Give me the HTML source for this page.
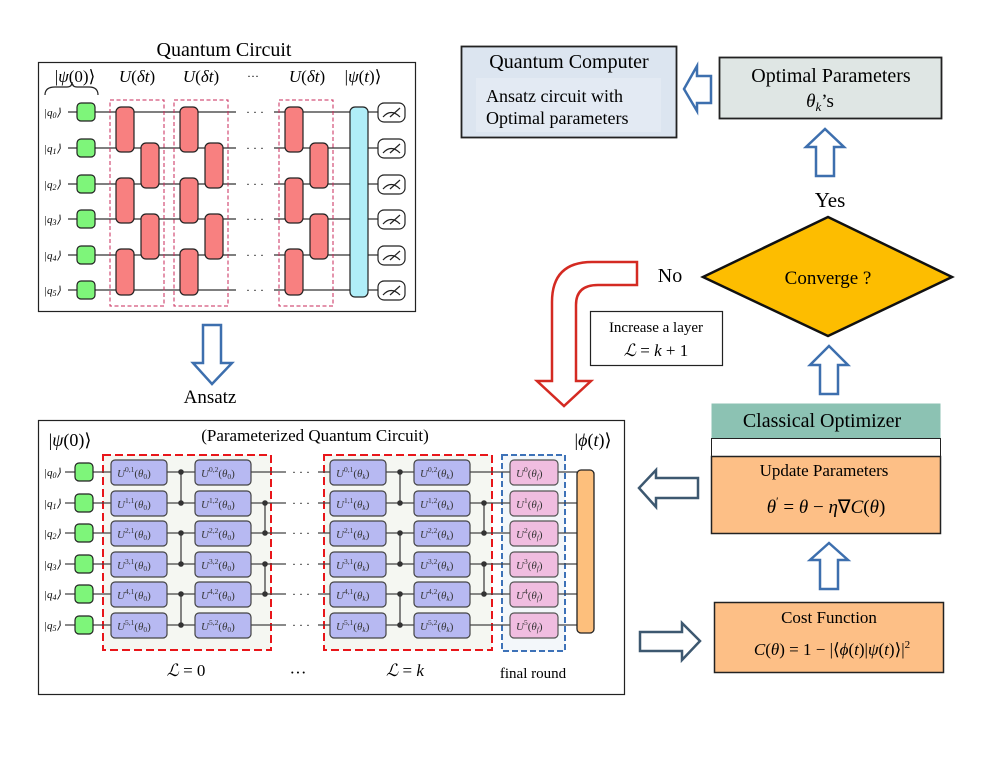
<!DOCTYPE html>
<html><head><meta charset="utf-8"><style>
body{margin:0;background:#fff}
svg{display:block;font-family:"Liberation Serif",serif}
.m{font-style:italic}
</style></head><body>
<svg width="997" height="770" viewBox="0 0 997 770" xmlns="http://www.w3.org/2000/svg">
<defs>
<g id="topcol">
<rect x="6" y="47" width="18" height="45" rx="5" fill="#f88080" stroke="#222" stroke-width="1.2"/>
<rect x="6" y="118" width="18" height="45" rx="5" fill="#f88080" stroke="#222" stroke-width="1.2"/>
<rect x="6" y="189" width="18" height="46" rx="5" fill="#f88080" stroke="#222" stroke-width="1.2"/>
<rect x="31" y="83" width="18" height="45" rx="5" fill="#f88080" stroke="#222" stroke-width="1.2"/>
<rect x="31" y="154" width="18" height="45" rx="5" fill="#f88080" stroke="#222" stroke-width="1.2"/>
<rect x="0" y="40" width="54" height="206" fill="none" stroke="#c8285a" stroke-width="1" stroke-dasharray="4,2.5"/>
</g>
<g id="meas"><rect x="0" y="-9" width="27" height="19" rx="6" fill="#fff" stroke="#222" stroke-width="1.2"/><path d="M5,5 Q13,-4 22,5 M12,5 L22,-4" fill="none" stroke="#222" stroke-width="1.2"/></g>
<rect id="bg" width="56" height="25" rx="4" fill="#b7b9f2" stroke="#444" stroke-width="1.2"/>
<rect id="pg" width="48" height="25" rx="4" fill="#f0bde0" stroke="#555" stroke-width="1.2"/>
<rect id="gr" width="18" height="18" rx="4" fill="#7ef57a" stroke="#222" stroke-width="1.2"/>
</defs>

<!-- TOP CIRCUIT -->
<text x="224" y="56" font-size="20" text-anchor="middle">Quantum Circuit</text>
<rect x="38.5" y="62.5" width="377" height="249" fill="#fff" stroke="#222" stroke-width="1.2"/>
<text x="75" y="82" font-size="17" text-anchor="middle">|<tspan class="m">ψ</tspan>(0)⟩</text>
<path d="M45,95 Q45,87 55,87 L67,87 Q72,87 72,82 Q72,87 77,87 L89,87 Q98,87 98,95" fill="none" stroke="#222" stroke-width="1.2"/>
<text x="137" y="82" font-size="17" text-anchor="middle"><tspan class="m">U</tspan>(<tspan class="m">δt</tspan>)</text>
<text x="201" y="82" font-size="17" text-anchor="middle"><tspan class="m">U</tspan>(<tspan class="m">δt</tspan>)</text>
<text x="253" y="80" font-size="12" text-anchor="middle">···</text>
<text x="307" y="82" font-size="17" text-anchor="middle"><tspan class="m">U</tspan>(<tspan class="m">δt</tspan>)</text>
<text x="363" y="82" font-size="17" text-anchor="middle">|<tspan class="m">ψ</tspan>(<tspan class="m">t</tspan>)⟩</text>
<g stroke="#333" stroke-width="1.2">
<path d="M68,112H236M274,112H378M68,148H236M274,148H378M68,184H236M274,184H378M68,219H236M274,219H378M68,255H236M274,255H378M68,290H236M274,290H378"/>
</g>
<g font-size="11" font-style="italic">
<text x="44" y="116">|q<tspan font-size="8" dy="2">0</tspan><tspan dy="-2">⟩</tspan></text>
<text x="44" y="152">|q<tspan font-size="8" dy="2">1</tspan><tspan dy="-2">⟩</tspan></text>
<text x="44" y="188">|q<tspan font-size="8" dy="2">2</tspan><tspan dy="-2">⟩</tspan></text>
<text x="44" y="223">|q<tspan font-size="8" dy="2">3</tspan><tspan dy="-2">⟩</tspan></text>
<text x="44" y="259">|q<tspan font-size="8" dy="2">4</tspan><tspan dy="-2">⟩</tspan></text>
<text x="44" y="294">|q<tspan font-size="8" dy="2">5</tspan><tspan dy="-2">⟩</tspan></text>
</g>
<use href="#gr" x="77" y="103"/><use href="#gr" x="77" y="139"/><use href="#gr" x="77" y="175"/><use href="#gr" x="77" y="210"/><use href="#gr" x="77" y="246"/><use href="#gr" x="77" y="281"/>
<use href="#topcol" x="110" y="60"/><use href="#topcol" x="174" y="60"/><use href="#topcol" x="279" y="60"/>
<g font-size="12" text-anchor="middle"><text x="255" y="116">· · ·</text><text x="255" y="152">· · ·</text><text x="255" y="188">· · ·</text><text x="255" y="223">· · ·</text><text x="255" y="259">· · ·</text><text x="255" y="294">· · ·</text></g>
<rect x="350" y="107" width="18" height="190" rx="5" fill="#b0eef8" stroke="#222" stroke-width="1.2"/>
<use href="#meas" x="378" y="112"/><use href="#meas" x="378" y="148"/><use href="#meas" x="378" y="184"/><use href="#meas" x="378" y="219"/><use href="#meas" x="378" y="255"/><use href="#meas" x="378" y="290"/>

<!-- Ansatz arrow -->
<path d="M203,325H221V363H232L212,384L193,363H203Z" fill="#fff" stroke="#3d6fae" stroke-width="2.5"/>
<text x="210" y="403" font-size="19" text-anchor="middle">Ansatz</text>

<!-- BOTTOM CIRCUIT -->
<rect x="38.5" y="420.5" width="586" height="274" fill="#fff" stroke="#222" stroke-width="1.2"/>
<text x="70" y="446" font-size="18" text-anchor="middle">|<tspan class="m">ψ</tspan>(0)⟩</text>
<text x="315" y="441" font-size="17" text-anchor="middle">(Parameterized Quantum Circuit)</text>
<text x="593" y="446" font-size="18" text-anchor="middle">|<tspan class="m">ϕ</tspan>(<tspan class="m">t</tspan>)⟩</text>
<rect x="103" y="455" width="168" height="195" fill="#f5f7f2" stroke="#e8161a" stroke-width="2" stroke-dasharray="8,4"/>
<rect x="324" y="455" width="168" height="195" fill="#f5f7f2" stroke="#e8161a" stroke-width="2" stroke-dasharray="8,4"/>
<rect x="502" y="455" width="63" height="196" fill="#f3f7fa" stroke="#3d72b8" stroke-width="2" stroke-dasharray="6,3"/>
<g stroke="#444" stroke-width="1.3">
<path d="M65,472H286M318,472H577M65,503H286M318,503H577M65,533H286M318,533H577M65,564H286M318,564H577M65,594H286M318,594H577M65,625H286M318,625H577"/>
<path d="M181,472V503M181,533V564M181,594V625M265,503V533M265,564V594M400,472V503M400,533V564M400,594V625M484,503V533M484,564V594"/>
</g>
<g fill="#333">
<circle cx="181" cy="472" r="2.8"/><circle cx="181" cy="503" r="2.8"/><circle cx="181" cy="533" r="2.8"/><circle cx="181" cy="564" r="2.8"/><circle cx="181" cy="594" r="2.8"/><circle cx="181" cy="625" r="2.8"/>
<circle cx="265" cy="503" r="2.8"/><circle cx="265" cy="533" r="2.8"/><circle cx="265" cy="564" r="2.8"/><circle cx="265" cy="594" r="2.8"/>
<circle cx="400" cy="472" r="2.8"/><circle cx="400" cy="503" r="2.8"/><circle cx="400" cy="533" r="2.8"/><circle cx="400" cy="564" r="2.8"/><circle cx="400" cy="594" r="2.8"/><circle cx="400" cy="625" r="2.8"/>
<circle cx="484" cy="503" r="2.8"/><circle cx="484" cy="533" r="2.8"/><circle cx="484" cy="564" r="2.8"/><circle cx="484" cy="594" r="2.8"/>
</g>
<g font-size="11" font-style="italic">
<text x="44" y="476">|q<tspan font-size="8" dy="2">0</tspan><tspan dy="-2">⟩</tspan></text>
<text x="44" y="507">|q<tspan font-size="8" dy="2">1</tspan><tspan dy="-2">⟩</tspan></text>
<text x="44" y="537">|q<tspan font-size="8" dy="2">2</tspan><tspan dy="-2">⟩</tspan></text>
<text x="44" y="568">|q<tspan font-size="8" dy="2">3</tspan><tspan dy="-2">⟩</tspan></text>
<text x="44" y="598">|q<tspan font-size="8" dy="2">4</tspan><tspan dy="-2">⟩</tspan></text>
<text x="44" y="629">|q<tspan font-size="8" dy="2">5</tspan><tspan dy="-2">⟩</tspan></text>
</g>
<use href="#gr" x="75" y="463"/><use href="#gr" x="75" y="494"/><use href="#gr" x="75" y="524"/><use href="#gr" x="75" y="555"/><use href="#gr" x="75" y="585"/><use href="#gr" x="75" y="616"/>
<g>
<use href="#bg" x="111" y="460"/><use href="#bg" x="111" y="491"/><use href="#bg" x="111" y="521"/><use href="#bg" x="111" y="552"/><use href="#bg" x="111" y="582"/><use href="#bg" x="111" y="613"/>
<use href="#bg" x="195" y="460"/><use href="#bg" x="195" y="491"/><use href="#bg" x="195" y="521"/><use href="#bg" x="195" y="552"/><use href="#bg" x="195" y="582"/><use href="#bg" x="195" y="613"/>
<use href="#bg" x="330" y="460"/><use href="#bg" x="330" y="491"/><use href="#bg" x="330" y="521"/><use href="#bg" x="330" y="552"/><use href="#bg" x="330" y="582"/><use href="#bg" x="330" y="613"/>
<use href="#bg" x="414" y="460"/><use href="#bg" x="414" y="491"/><use href="#bg" x="414" y="521"/><use href="#bg" x="414" y="552"/><use href="#bg" x="414" y="582"/><use href="#bg" x="414" y="613"/>
<use href="#pg" x="510" y="460"/><use href="#pg" x="510" y="491"/><use href="#pg" x="510" y="521"/><use href="#pg" x="510" y="552"/><use href="#pg" x="510" y="582"/><use href="#pg" x="510" y="613"/>
</g>
<g font-size="11" fill="#333">
<text x="117" y="477"><tspan class="m">U</tspan><tspan font-size="7.5" dy="-5">0,1</tspan><tspan dy="5">(</tspan><tspan class="m">θ</tspan><tspan font-size="7.5" dy="2">0</tspan><tspan dy="-2">)</tspan></text>
<text x="117" y="508"><tspan class="m">U</tspan><tspan font-size="7.5" dy="-5">1,1</tspan><tspan dy="5">(</tspan><tspan class="m">θ</tspan><tspan font-size="7.5" dy="2">0</tspan><tspan dy="-2">)</tspan></text>
<text x="117" y="538"><tspan class="m">U</tspan><tspan font-size="7.5" dy="-5">2,1</tspan><tspan dy="5">(</tspan><tspan class="m">θ</tspan><tspan font-size="7.5" dy="2">0</tspan><tspan dy="-2">)</tspan></text>
<text x="117" y="569"><tspan class="m">U</tspan><tspan font-size="7.5" dy="-5">3,1</tspan><tspan dy="5">(</tspan><tspan class="m">θ</tspan><tspan font-size="7.5" dy="2">0</tspan><tspan dy="-2">)</tspan></text>
<text x="117" y="599"><tspan class="m">U</tspan><tspan font-size="7.5" dy="-5">4,1</tspan><tspan dy="5">(</tspan><tspan class="m">θ</tspan><tspan font-size="7.5" dy="2">0</tspan><tspan dy="-2">)</tspan></text>
<text x="117" y="630"><tspan class="m">U</tspan><tspan font-size="7.5" dy="-5">5,1</tspan><tspan dy="5">(</tspan><tspan class="m">θ</tspan><tspan font-size="7.5" dy="2">0</tspan><tspan dy="-2">)</tspan></text>
<text x="201" y="477"><tspan class="m">U</tspan><tspan font-size="7.5" dy="-5">0,2</tspan><tspan dy="5">(</tspan><tspan class="m">θ</tspan><tspan font-size="7.5" dy="2">0</tspan><tspan dy="-2">)</tspan></text>
<text x="201" y="508"><tspan class="m">U</tspan><tspan font-size="7.5" dy="-5">1,2</tspan><tspan dy="5">(</tspan><tspan class="m">θ</tspan><tspan font-size="7.5" dy="2">0</tspan><tspan dy="-2">)</tspan></text>
<text x="201" y="538"><tspan class="m">U</tspan><tspan font-size="7.5" dy="-5">2,2</tspan><tspan dy="5">(</tspan><tspan class="m">θ</tspan><tspan font-size="7.5" dy="2">0</tspan><tspan dy="-2">)</tspan></text>
<text x="201" y="569"><tspan class="m">U</tspan><tspan font-size="7.5" dy="-5">3,2</tspan><tspan dy="5">(</tspan><tspan class="m">θ</tspan><tspan font-size="7.5" dy="2">0</tspan><tspan dy="-2">)</tspan></text>
<text x="201" y="599"><tspan class="m">U</tspan><tspan font-size="7.5" dy="-5">4,2</tspan><tspan dy="5">(</tspan><tspan class="m">θ</tspan><tspan font-size="7.5" dy="2">0</tspan><tspan dy="-2">)</tspan></text>
<text x="201" y="630"><tspan class="m">U</tspan><tspan font-size="7.5" dy="-5">5,2</tspan><tspan dy="5">(</tspan><tspan class="m">θ</tspan><tspan font-size="7.5" dy="2">0</tspan><tspan dy="-2">)</tspan></text>
<text x="336" y="477"><tspan class="m">U</tspan><tspan font-size="7.5" dy="-5">0,1</tspan><tspan dy="5">(</tspan><tspan class="m">θ</tspan><tspan font-size="7.5" dy="2" class="m">k</tspan><tspan dy="-2">)</tspan></text>
<text x="336" y="508"><tspan class="m">U</tspan><tspan font-size="7.5" dy="-5">1,1</tspan><tspan dy="5">(</tspan><tspan class="m">θ</tspan><tspan font-size="7.5" dy="2" class="m">k</tspan><tspan dy="-2">)</tspan></text>
<text x="336" y="538"><tspan class="m">U</tspan><tspan font-size="7.5" dy="-5">2,1</tspan><tspan dy="5">(</tspan><tspan class="m">θ</tspan><tspan font-size="7.5" dy="2" class="m">k</tspan><tspan dy="-2">)</tspan></text>
<text x="336" y="569"><tspan class="m">U</tspan><tspan font-size="7.5" dy="-5">3,1</tspan><tspan dy="5">(</tspan><tspan class="m">θ</tspan><tspan font-size="7.5" dy="2" class="m">k</tspan><tspan dy="-2">)</tspan></text>
<text x="336" y="599"><tspan class="m">U</tspan><tspan font-size="7.5" dy="-5">4,1</tspan><tspan dy="5">(</tspan><tspan class="m">θ</tspan><tspan font-size="7.5" dy="2" class="m">k</tspan><tspan dy="-2">)</tspan></text>
<text x="336" y="630"><tspan class="m">U</tspan><tspan font-size="7.5" dy="-5">5,1</tspan><tspan dy="5">(</tspan><tspan class="m">θ</tspan><tspan font-size="7.5" dy="2" class="m">k</tspan><tspan dy="-2">)</tspan></text>
<text x="420" y="477"><tspan class="m">U</tspan><tspan font-size="7.5" dy="-5">0,2</tspan><tspan dy="5">(</tspan><tspan class="m">θ</tspan><tspan font-size="7.5" dy="2" class="m">k</tspan><tspan dy="-2">)</tspan></text>
<text x="420" y="508"><tspan class="m">U</tspan><tspan font-size="7.5" dy="-5">1,2</tspan><tspan dy="5">(</tspan><tspan class="m">θ</tspan><tspan font-size="7.5" dy="2" class="m">k</tspan><tspan dy="-2">)</tspan></text>
<text x="420" y="538"><tspan class="m">U</tspan><tspan font-size="7.5" dy="-5">2,2</tspan><tspan dy="5">(</tspan><tspan class="m">θ</tspan><tspan font-size="7.5" dy="2" class="m">k</tspan><tspan dy="-2">)</tspan></text>
<text x="420" y="569"><tspan class="m">U</tspan><tspan font-size="7.5" dy="-5">3,2</tspan><tspan dy="5">(</tspan><tspan class="m">θ</tspan><tspan font-size="7.5" dy="2" class="m">k</tspan><tspan dy="-2">)</tspan></text>
<text x="420" y="599"><tspan class="m">U</tspan><tspan font-size="7.5" dy="-5">4,2</tspan><tspan dy="5">(</tspan><tspan class="m">θ</tspan><tspan font-size="7.5" dy="2" class="m">k</tspan><tspan dy="-2">)</tspan></text>
<text x="420" y="630"><tspan class="m">U</tspan><tspan font-size="7.5" dy="-5">5,2</tspan><tspan dy="5">(</tspan><tspan class="m">θ</tspan><tspan font-size="7.5" dy="2" class="m">k</tspan><tspan dy="-2">)</tspan></text>
<text x="516" y="477"><tspan class="m">U</tspan><tspan font-size="7.5" dy="-5">0</tspan><tspan dy="5">(</tspan><tspan class="m">θ</tspan><tspan font-size="7.5" dy="2" class="m">f</tspan><tspan dy="-2">)</tspan></text>
<text x="516" y="508"><tspan class="m">U</tspan><tspan font-size="7.5" dy="-5">1</tspan><tspan dy="5">(</tspan><tspan class="m">θ</tspan><tspan font-size="7.5" dy="2" class="m">f</tspan><tspan dy="-2">)</tspan></text>
<text x="516" y="538"><tspan class="m">U</tspan><tspan font-size="7.5" dy="-5">2</tspan><tspan dy="5">(</tspan><tspan class="m">θ</tspan><tspan font-size="7.5" dy="2" class="m">f</tspan><tspan dy="-2">)</tspan></text>
<text x="516" y="569"><tspan class="m">U</tspan><tspan font-size="7.5" dy="-5">3</tspan><tspan dy="5">(</tspan><tspan class="m">θ</tspan><tspan font-size="7.5" dy="2" class="m">f</tspan><tspan dy="-2">)</tspan></text>
<text x="516" y="599"><tspan class="m">U</tspan><tspan font-size="7.5" dy="-5">4</tspan><tspan dy="5">(</tspan><tspan class="m">θ</tspan><tspan font-size="7.5" dy="2" class="m">f</tspan><tspan dy="-2">)</tspan></text>
<text x="516" y="630"><tspan class="m">U</tspan><tspan font-size="7.5" dy="-5">5</tspan><tspan dy="5">(</tspan><tspan class="m">θ</tspan><tspan font-size="7.5" dy="2" class="m">f</tspan><tspan dy="-2">)</tspan></text>
</g>
<g font-size="12" text-anchor="middle"><text x="301" y="476">· · ·</text><text x="301" y="507">· · ·</text><text x="301" y="537">· · ·</text><text x="301" y="568">· · ·</text><text x="301" y="598">· · ·</text><text x="301" y="629">· · ·</text></g>
<rect x="577" y="470" width="17" height="163" rx="4" fill="#fdbf7c" stroke="#222" stroke-width="1.3"/>
<text x="186" y="676" font-size="17" text-anchor="middle"><tspan class="m">ℒ</tspan> = 0</text>
<text x="298" y="678" font-size="17" text-anchor="middle">···</text>
<text x="405" y="676" font-size="17" text-anchor="middle"><tspan class="m">ℒ</tspan> = <tspan class="m">k</tspan></text>
<text x="533" y="678" font-size="15" text-anchor="middle">final round</text>

<!-- RIGHT SIDE -->
<rect x="461.5" y="46.5" width="215" height="91" fill="#dce5f0" stroke="#222" stroke-width="1.8"/>
<rect x="476" y="78" width="185" height="54" fill="#e3eaf3"/>
<text x="569" y="68" font-size="20" text-anchor="middle">Quantum Computer</text>
<text x="486" y="102" font-size="18">Ansatz circuit with</text>
<text x="486" y="124" font-size="18">Optimal parameters</text>
<path d="M711,76V103H697V111L684,89L697,66V76Z" fill="#fff" stroke="#3d6fae" stroke-width="2.5"/>
<rect x="719.5" y="57.5" width="222" height="61" fill="#dfe6e4" stroke="#222" stroke-width="1.8"/>
<text x="831" y="82" font-size="20" text-anchor="middle">Optimal Parameters</text>
<text x="820" y="107" font-size="19" text-anchor="middle"><tspan class="m">θ</tspan><tspan font-size="13" dy="4" class="m">k</tspan><tspan dy="-4">’s</tspan></text>
<path d="M816,176V147H806L825,129L844,147H834V176Z" fill="#fff" stroke="#3d6fae" stroke-width="2.5"/>
<text x="830" y="207" font-size="21" text-anchor="middle">Yes</text>
<polygon points="703,277 828,217 952,277 828,336" fill="#fdbd00" stroke="#111" stroke-width="2.5"/>
<text x="828" y="284" font-size="19" text-anchor="middle">Converge ?</text>
<text x="670" y="282" font-size="20" text-anchor="middle">No</text>
<path d="M637,262L592,262Q552,262 552,302L552,381L537,381L564,406L591,381L576,381L576,305Q576,285 598,285L637,285Z" fill="#fff" stroke="#d42a22" stroke-width="2.5"/>
<rect x="590.5" y="311.5" width="132" height="54" fill="#fff" stroke="#222" stroke-width="1.2"/>
<text x="656" y="332" font-size="15" text-anchor="middle">Increase a layer</text>
<text x="656" y="356" font-size="17" text-anchor="middle"><tspan class="m">ℒ</tspan> = <tspan class="m">k</tspan> + 1</text>
<path d="M820,394V365H810L829,346L848,365H838V394Z" fill="#fff" stroke="#3d6fae" stroke-width="2.5"/>
<rect x="711.5" y="403.5" width="229" height="35" fill="#8cc2b3"/>
<rect x="711.5" y="438.5" width="229" height="18" fill="#fff" stroke="#222" stroke-width="1"/>
<text x="822" y="427" font-size="20" text-anchor="middle">Classical Optimizer</text>
<rect x="711.5" y="456.5" width="229" height="77" fill="#fdbf86" stroke="#222" stroke-width="1.5"/>
<text x="824" y="476" font-size="17" text-anchor="middle">Update Parameters</text>
<text x="826" y="513" font-size="19" text-anchor="middle"><tspan class="m">θ</tspan><tspan font-size="12" dy="-8">′</tspan><tspan dy="8"> = </tspan><tspan class="m">θ</tspan> − <tspan class="m">η</tspan>∇<tspan class="m">C</tspan>(<tspan class="m">θ</tspan>)</text>
<path d="M698,478V498H656V507L639,488L656,470V478Z" fill="#fff" stroke="#3d5870" stroke-width="2.5"/>
<path d="M820,589V560H810L829,543L848,560H838V589Z" fill="#fff" stroke="#3d6fae" stroke-width="2.5"/>
<rect x="714.5" y="602.5" width="229" height="70" fill="#fdbf86" stroke="#222" stroke-width="1.5"/>
<text x="829" y="623" font-size="17" text-anchor="middle">Cost Function</text>
<text x="832" y="655" font-size="17" text-anchor="middle"><tspan class="m">C</tspan>(<tspan class="m">θ</tspan>) = 1 − |⟨<tspan class="m">ϕ</tspan>(<tspan class="m">t</tspan>)|<tspan class="m">ψ</tspan>(<tspan class="m">t</tspan>)⟩|<tspan font-size="11" dy="-7">2</tspan></text>
<path d="M640,632H682V623L700,641L682,660V651H640Z" fill="#fff" stroke="#3d5870" stroke-width="2.5"/>
</svg>
</body></html>
